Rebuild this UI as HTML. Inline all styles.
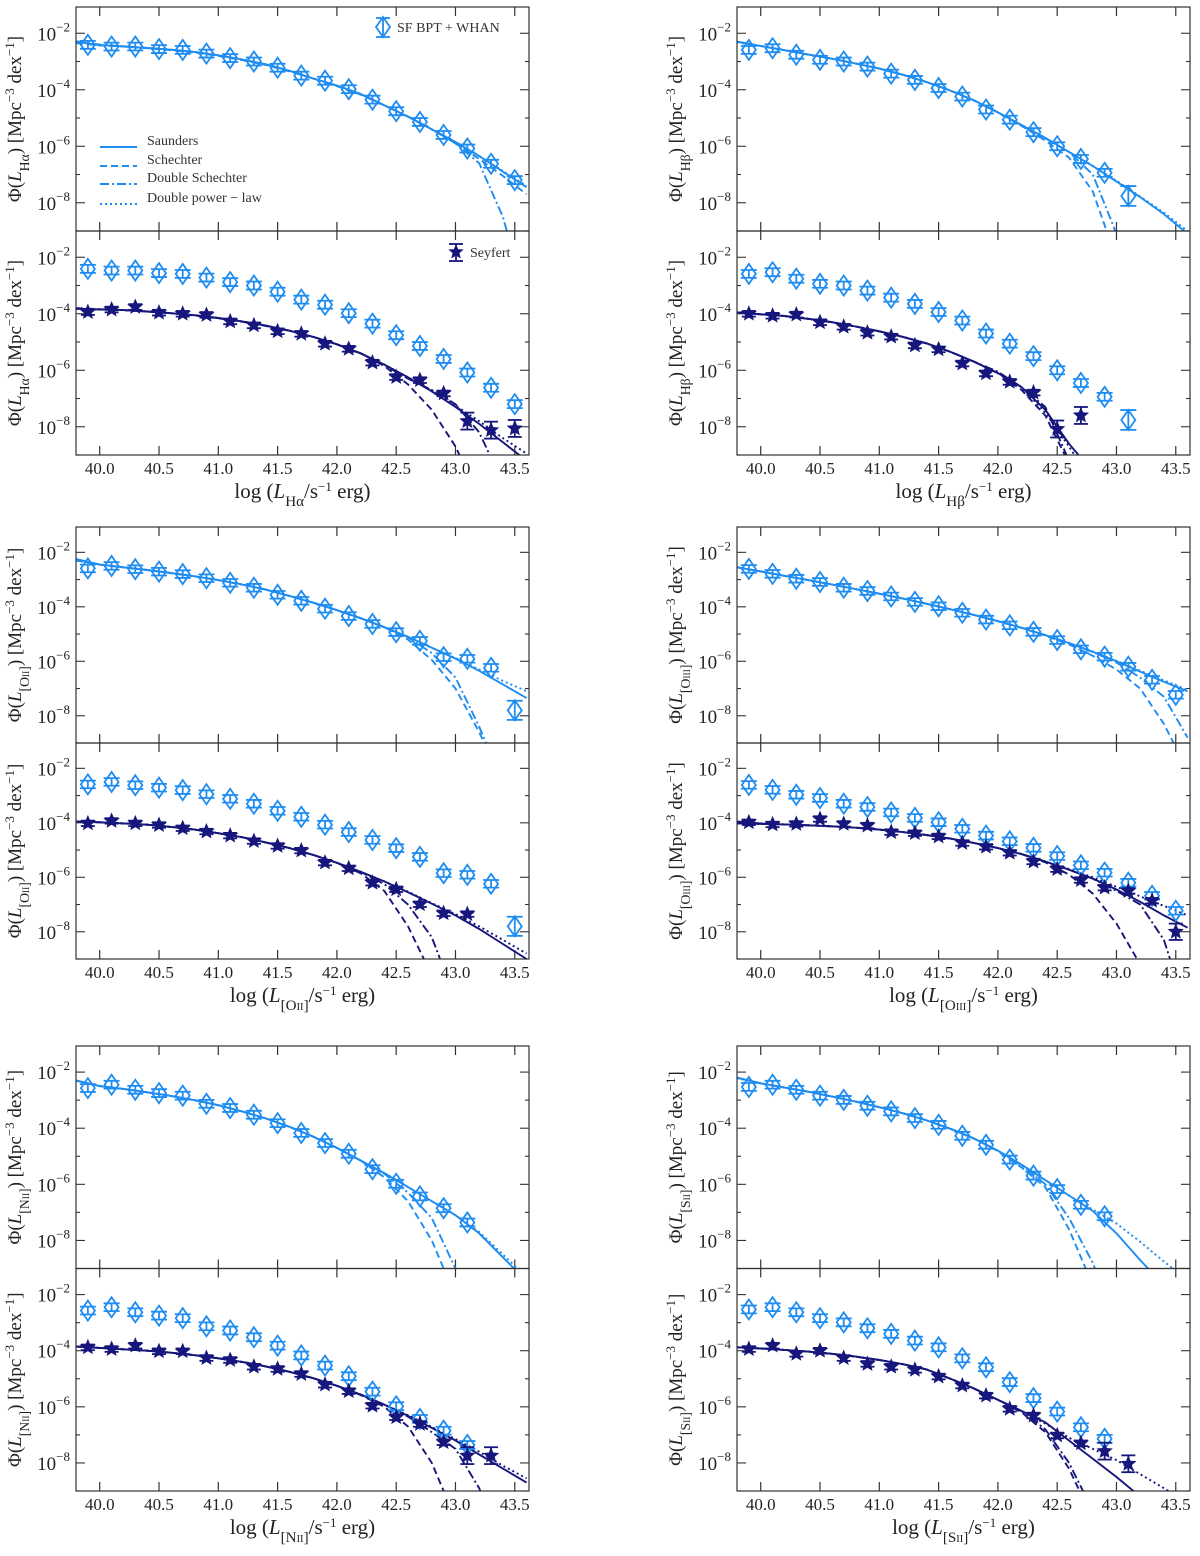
<!DOCTYPE html>
<html><head><meta charset="utf-8"><title>Luminosity functions</title>
<style>
html,body{margin:0;padding:0;background:#fff;width:1200px;height:1556px;overflow:hidden;}
svg{display:block;font-family:"Liberation Serif","DejaVu Serif",serif;overflow:hidden;}
</style></head>
<body>
<svg id="fig" width="1200" height="1556" viewBox="0 0 1200 1556" xmlns="http://www.w3.org/2000/svg"></svg>
<script>
// ---------- shared data ----------
const xPts = [39.9,40.1,40.3,40.5,40.7,40.9,41.1,41.3,41.5,41.7,41.9,42.1,42.3,42.5,42.7,42.9,43.1,43.3,43.5];
const xGrid = [39.8,40.0,40.2,40.4,40.6,40.8,41.0,41.2,41.4,41.6,41.8,42.0,42.2,42.4,42.6,42.8,43.0,43.2,43.4,43.6];
const xTickLabels = ["40.0","40.5","41.0","41.5","42.0","42.5","43.0","43.5"];
const yTickExps = [-2,-4,-6,-8];

// ---------- H alpha (log10 Phi) ----------
const haSF  = [-2.41,-2.47,-2.47,-2.56,-2.59,-2.72,-2.88,-3.0,-3.22,-3.5,-3.68,-3.98,-4.35,-4.76,-5.14,-5.6,-6.08,-6.62,-7.2];
const haSey = [-3.94,-3.85,-3.76,-3.96,-4.0,-4.04,-4.27,-4.41,-4.62,-4.71,-5.06,-5.24,-5.73,-6.24,-6.35,-6.82,-7.8,-8.12,-8.06];
const haSFSau = [-2.3,-2.42,-2.46,-2.52,-2.58,-2.66,-2.78,-2.93,-3.1,-3.33,-3.6,-3.85,-4.15,-4.55,-4.95,-5.4,-5.85,-6.35,-6.9,-7.45];
const haSFSch = [-2.35,-2.43,-2.47,-2.53,-2.6,-2.68,-2.8,-2.95,-3.12,-3.35,-3.6,-3.87,-4.17,-4.55,-4.95,-5.4,-5.9,-6.45,-7.05,-7.7];
const haSFDS  = [-2.28,-2.4,-2.46,-2.52,-2.58,-2.66,-2.78,-2.93,-3.1,-3.33,-3.6,-3.85,-4.15,-4.55,-4.95,-5.4,-5.9,-6.6,-8.5,-11.5];
const haSFDPL = [-2.32,-2.42,-2.47,-2.52,-2.58,-2.66,-2.78,-2.93,-3.1,-3.33,-3.6,-3.85,-4.15,-4.55,-4.95,-5.4,-5.85,-6.35,-6.88,-7.4];
const haSeySau = [-3.82,-3.85,-3.87,-3.92,-3.98,-4.05,-4.15,-4.27,-4.42,-4.6,-4.82,-5.08,-5.4,-5.8,-6.25,-6.75,-7.3,-7.9,-8.55,-9.2];
const haSeySch = [-3.8,-3.84,-3.87,-3.92,-3.98,-4.06,-4.16,-4.28,-4.43,-4.6,-4.82,-5.08,-5.4,-5.85,-6.5,-7.4,-8.7,-10.5,-12,-14];
const haSeyDS  = [-3.82,-3.85,-3.87,-3.92,-3.98,-4.05,-4.15,-4.27,-4.42,-4.6,-4.82,-5.08,-5.4,-5.82,-6.3,-6.7,-7.2,-8.2,-10,-12];
const haSeyDPL = [-3.83,-3.85,-3.87,-3.92,-3.98,-4.05,-4.15,-4.27,-4.42,-4.6,-4.82,-5.08,-5.4,-5.8,-6.25,-6.72,-7.25,-7.8,-8.4,-8.95];

// ---------- H beta ----------
const hbSF  = [-2.59,-2.53,-2.76,-2.94,-3.0,-3.18,-3.43,-3.65,-3.94,-4.24,-4.7,-5.06,-5.5,-6.0,-6.45,-6.94,-7.76,null,null];
const hbSey = [-4.0,-4.07,-4.03,-4.3,-4.46,-4.67,-4.81,-5.12,-5.26,-5.76,-6.11,-6.41,-6.79,-8.08,-7.6,null,null,null,null];
const hbSFSau = [-2.3,-2.45,-2.6,-2.75,-2.9,-3.07,-3.25,-3.47,-3.73,-4.03,-4.38,-4.8,-5.25,-5.7,-6.2,-6.7,-7.25,-7.8,-8.4,-9.1];
const hbSFSch = [-2.3,-2.45,-2.6,-2.75,-2.9,-3.07,-3.25,-3.47,-3.73,-4.03,-4.38,-4.8,-5.28,-5.8,-6.4,-7.6,-10,-12,-14,-16];
const hbSFDS  = [-2.3,-2.45,-2.6,-2.75,-2.9,-3.07,-3.25,-3.47,-3.73,-4.03,-4.38,-4.8,-5.25,-5.72,-6.2,-7.0,-9.1,-11,-13,-15];
const hbSFDPL = [-2.32,-2.45,-2.6,-2.75,-2.9,-3.07,-3.25,-3.47,-3.73,-4.03,-4.38,-4.8,-5.25,-5.7,-6.2,-6.7,-7.22,-7.78,-8.35,-9.0];
const hbSeySau = [-3.95,-4.02,-4.08,-4.18,-4.3,-4.45,-4.62,-4.82,-5.05,-5.35,-5.7,-6.1,-6.6,-7.4,-8.6,-9.6,-11,-12,-13,-14];
const hbSeySch = [-3.95,-4.02,-4.08,-4.18,-4.3,-4.45,-4.62,-4.82,-5.05,-5.35,-5.7,-6.1,-6.7,-7.6,-9.3,-11,-13,-14,-15,-16];
const hbSeyDS  = [-3.95,-4.02,-4.08,-4.18,-4.3,-4.45,-4.62,-4.82,-5.05,-5.35,-5.7,-6.05,-6.6,-7.3,-9.2,-11,-13,-14,-15,-16];
const hbSeyDPL = [-3.95,-4.02,-4.08,-4.18,-4.3,-4.45,-4.62,-4.82,-5.05,-5.35,-5.7,-6.1,-6.6,-7.5,-8.7,-10,-11,-12,-13,-14];

// ---------- [OII] ----------
const o2SF  = [-2.59,-2.5,-2.62,-2.71,-2.8,-2.95,-3.12,-3.3,-3.56,-3.78,-4.07,-4.34,-4.63,-4.93,-5.25,-5.85,-5.91,-6.24,-7.8];
const o2Sey = [-4.02,-3.93,-4.02,-4.08,-4.2,-4.32,-4.47,-4.67,-4.85,-5.02,-5.46,-5.67,-6.2,-6.44,-6.99,-7.32,-7.35,null,null];
const o2SFSau = [-2.25,-2.45,-2.55,-2.65,-2.76,-2.88,-3.02,-3.18,-3.37,-3.6,-3.85,-4.12,-4.42,-4.75,-5.1,-5.5,-5.9,-6.35,-6.85,-7.35];
const o2SFSch = [-2.3,-2.45,-2.55,-2.65,-2.76,-2.88,-3.02,-3.18,-3.37,-3.6,-3.85,-4.12,-4.42,-4.75,-5.2,-5.95,-7.0,-8.6,-10.5,-12];
const o2SFDS  = [-2.25,-2.45,-2.55,-2.65,-2.76,-2.88,-3.02,-3.18,-3.37,-3.6,-3.85,-4.12,-4.42,-4.75,-5.12,-5.7,-6.6,-8.4,-10.5,-12];
const o2SFDPL = [-2.28,-2.45,-2.55,-2.65,-2.76,-2.88,-3.02,-3.18,-3.37,-3.6,-3.85,-4.12,-4.42,-4.75,-5.1,-5.5,-5.88,-6.3,-6.72,-7.1];
const o2SeySau = [-3.95,-3.98,-4.02,-4.07,-4.15,-4.25,-4.38,-4.53,-4.72,-4.93,-5.18,-5.47,-5.8,-6.15,-6.55,-6.97,-7.4,-7.9,-8.45,-9.0];
const o2SeySch = [-3.95,-3.98,-4.02,-4.07,-4.15,-4.25,-4.38,-4.53,-4.72,-4.93,-5.18,-5.47,-5.85,-6.5,-7.8,-9.6,-12,-13,-14,-15];
const o2SeyDS  = [-3.95,-3.98,-4.02,-4.07,-4.15,-4.25,-4.38,-4.53,-4.72,-4.93,-5.18,-5.47,-5.8,-6.25,-7.0,-8.2,-10.5,-12,-13,-14];
const o2SeyDPL = [-3.95,-3.98,-4.02,-4.07,-4.15,-4.25,-4.38,-4.53,-4.72,-4.93,-5.18,-5.47,-5.8,-6.15,-6.53,-6.95,-7.35,-7.8,-8.3,-8.8];

// ---------- [OIII] ----------
const o3SF  = [-2.61,-2.79,-2.97,-3.09,-3.3,-3.42,-3.62,-3.82,-3.98,-4.22,-4.47,-4.68,-4.92,-5.22,-5.56,-5.83,-6.2,-6.68,-7.23];
const o3Sey = [-3.98,-4.06,-4.04,-3.86,-4.04,-4.1,-4.34,-4.38,-4.5,-4.74,-4.88,-5.1,-5.42,-5.7,-6.1,-6.38,-6.5,-6.86,-8.0];
const o3SFSau = [-2.55,-2.7,-2.86,-3.02,-3.18,-3.35,-3.52,-3.7,-3.89,-4.09,-4.3,-4.53,-4.77,-5.04,-5.33,-5.65,-6.0,-6.38,-6.75,-7.1];
const o3SFSch = [-2.55,-2.7,-2.86,-3.02,-3.18,-3.35,-3.52,-3.7,-3.89,-4.09,-4.3,-4.53,-4.77,-5.06,-5.38,-5.8,-6.3,-7.0,-8.3,-10];
const o3SFDS  = [-2.55,-2.7,-2.86,-3.02,-3.18,-3.35,-3.52,-3.7,-3.89,-4.09,-4.3,-4.53,-4.77,-5.04,-5.33,-5.66,-6.05,-6.6,-7.3,-8.8];
const o3SFDPL = [-2.55,-2.7,-2.86,-3.02,-3.18,-3.35,-3.52,-3.7,-3.89,-4.09,-4.3,-4.53,-4.77,-5.04,-5.33,-5.64,-5.98,-6.35,-6.7,-7.05];
const o3SeySau = [-4.02,-4.04,-4.06,-4.09,-4.13,-4.18,-4.25,-4.34,-4.45,-4.58,-4.74,-4.93,-5.15,-5.42,-5.72,-6.05,-6.45,-6.9,-7.4,-7.85];
const o3SeySch = [-4.0,-4.03,-4.06,-4.09,-4.13,-4.18,-4.25,-4.34,-4.45,-4.58,-4.74,-4.93,-5.15,-5.45,-5.9,-6.6,-7.7,-9.2,-11,-13];
const o3SeyDS  = [-3.95,-4.02,-4.06,-4.09,-4.13,-4.18,-4.25,-4.34,-4.45,-4.58,-4.74,-4.93,-5.15,-5.42,-5.72,-6.05,-6.5,-7.0,-8.3,-11];
const o3SeyDPL = [-4.02,-4.04,-4.06,-4.09,-4.13,-4.18,-4.25,-4.34,-4.45,-4.58,-4.74,-4.93,-5.15,-5.42,-5.7,-6.0,-6.35,-6.7,-7.05,-7.4];

// ---------- [NII] ----------
const n2SF  = [-2.57,-2.45,-2.63,-2.75,-2.84,-3.13,-3.28,-3.52,-3.82,-4.17,-4.53,-4.91,-5.46,-5.98,-6.43,-6.85,-7.36,null,null];
const n2Sey = [-3.88,-3.94,-3.82,-4.02,-4.02,-4.26,-4.33,-4.57,-4.65,-4.83,-5.21,-5.44,-5.96,-6.37,-6.61,-7.26,-7.74,-7.74,null];
const n2SFSau = [-2.3,-2.5,-2.6,-2.72,-2.85,-3.0,-3.18,-3.4,-3.65,-3.95,-4.3,-4.7,-5.15,-5.6,-6.1,-6.6,-7.1,-7.75,-8.6,-9.45];
const n2SFSch = [-2.3,-2.5,-2.6,-2.72,-2.85,-3.0,-3.18,-3.4,-3.65,-3.95,-4.3,-4.7,-5.15,-5.75,-6.6,-8.0,-10,-12,-14,-16];
const n2SFDS  = [-2.3,-2.5,-2.6,-2.72,-2.85,-3.0,-3.18,-3.4,-3.65,-3.95,-4.3,-4.7,-5.15,-5.62,-6.3,-7.2,-9.0,-11,-13,-15];
const n2SFDPL = [-2.3,-2.5,-2.6,-2.72,-2.85,-3.0,-3.18,-3.4,-3.65,-3.95,-4.3,-4.7,-5.15,-5.6,-6.1,-6.6,-7.1,-7.7,-8.5,-9.3];
const n2SeySau = [-3.85,-3.9,-3.95,-4.0,-4.07,-4.16,-4.27,-4.4,-4.56,-4.75,-4.98,-5.25,-5.56,-5.92,-6.32,-6.75,-7.2,-7.7,-8.2,-8.7];
const n2SeySch = [-3.85,-3.9,-3.95,-4.0,-4.07,-4.16,-4.27,-4.4,-4.56,-4.75,-4.98,-5.25,-5.58,-6.0,-6.7,-8.0,-10,-12,-14,-16];
const n2SeyDS  = [-3.85,-3.9,-3.95,-4.0,-4.07,-4.16,-4.27,-4.4,-4.56,-4.75,-4.98,-5.25,-5.56,-5.92,-6.35,-6.9,-7.5,-8.9,-11,-13];
const n2SeyDPL = [-3.85,-3.9,-3.95,-4.0,-4.07,-4.16,-4.27,-4.4,-4.56,-4.75,-4.98,-5.25,-5.56,-5.92,-6.3,-6.72,-7.15,-7.6,-8.1,-8.55];

// ---------- [SII] ----------
const s2SF  = [-2.53,-2.45,-2.63,-2.84,-2.99,-3.2,-3.4,-3.64,-3.88,-4.27,-4.59,-5.12,-5.69,-6.17,-6.73,-7.14,null,null,null];
const s2Sey = [-3.94,-3.82,-4.11,-4.0,-4.26,-4.47,-4.57,-4.68,-4.92,-5.24,-5.6,-6.07,-6.31,-7.02,-7.3,-7.58,-8.03,null,null];
const s2SFSau = [-2.2,-2.4,-2.55,-2.7,-2.87,-3.05,-3.25,-3.47,-3.72,-4.02,-4.37,-4.8,-5.3,-5.85,-6.4,-6.95,-7.75,-8.7,-9.6,-10.5];
const s2SFSch = [-2.2,-2.4,-2.55,-2.7,-2.87,-3.05,-3.25,-3.47,-3.72,-4.02,-4.37,-4.82,-5.4,-6.1,-7.6,-9.6,-12,-14,-16,-18];
const s2SFDS  = [-2.2,-2.4,-2.55,-2.7,-2.87,-3.05,-3.25,-3.47,-3.72,-4.02,-4.37,-4.8,-5.32,-6.0,-7.2,-8.8,-11,-13,-15,-17];
const s2SFDPL = [-2.22,-2.4,-2.55,-2.7,-2.87,-3.05,-3.25,-3.47,-3.72,-4.02,-4.37,-4.8,-5.3,-5.85,-6.4,-6.9,-7.4,-8.05,-8.75,-9.4];
const s2SeySau = [-3.88,-3.92,-3.97,-4.03,-4.11,-4.21,-4.33,-4.48,-4.67,-5.0,-5.35,-5.75,-6.15,-6.55,-7.2,-7.85,-8.5,-9.2,-10,-11];
const s2SeySch = [-3.88,-3.92,-3.97,-4.03,-4.11,-4.21,-4.33,-4.48,-4.67,-5.0,-5.35,-5.75,-6.2,-6.9,-8.2,-10,-12,-14,-16,-18];
const s2SeyDS  = [-3.88,-3.92,-3.97,-4.03,-4.11,-4.21,-4.33,-4.48,-4.67,-5.0,-5.35,-5.75,-6.15,-6.8,-8.0,-9.7,-12,-14,-16,-18];
const s2SeyDPL = [-3.88,-3.92,-3.97,-4.03,-4.11,-4.21,-4.33,-4.48,-4.67,-5.0,-5.35,-5.75,-6.15,-6.6,-7.1,-7.5,-7.9,-8.4,-8.9,-9.4];

// ---------- layout ----------
const SVGNS = "http://www.w3.org/2000/svg";
const svg = document.getElementById('fig');
const LIGHT = "#1e8cf0", NAVY = "#16167c", AX = "#333";
const X_MIN = 39.8, X_MAX = 43.62, Y_MIN = -9, Y_MAX = -1.07;
const colLeft = [76, 737], colW = 453;
const rowTop = [7, 527, 1046], rowBot = [455, 959, 1491];
const dashes = {sau:null, sch:"7,4", ds:"9,3,2,3", dpl:"2,3"};

const panels = [
  {key:"ha", col:0,row:0, sub:"Hα", sf:haSF, sey:haSey,
   sfFits:[haSFSau,haSFSch,haSFDS,haSFDPL], seyFits:[haSeySau,haSeySch,haSeyDS,haSeyDPL]},
  {key:"hb", col:1,row:0, sub:"Hβ", sf:hbSF, sey:hbSey,
   sfFits:[hbSFSau,hbSFSch,hbSFDS,hbSFDPL], seyFits:[hbSeySau,hbSeySch,hbSeyDS,hbSeyDPL]},
  {key:"oii", col:0,row:1, sub:"[OII]", sf:o2SF, sey:o2Sey,
   sfFits:[o2SFSau,o2SFSch,o2SFDS,o2SFDPL], seyFits:[o2SeySau,o2SeySch,o2SeyDS,o2SeyDPL]},
  {key:"oiii", col:1,row:1, sub:"[OIII]", sf:o3SF, sey:o3Sey,
   sfFits:[o3SFSau,o3SFSch,o3SFDS,o3SFDPL], seyFits:[o3SeySau,o3SeySch,o3SeyDS,o3SeyDPL]},
  {key:"nii", col:0,row:2, sub:"[NII]", sf:n2SF, sey:n2Sey,
   sfFits:[n2SFSau,n2SFSch,n2SFDS,n2SFDPL], seyFits:[n2SeySau,n2SeySch,n2SeyDS,n2SeyDPL]},
  {key:"sii", col:1,row:2, sub:"[SII]", sf:s2SF, sey:s2Sey,
   sfFits:[s2SFSau,s2SFSch,s2SFDS,s2SFDPL], seyFits:[s2SeySau,s2SeySch,s2SeyDS,s2SeyDPL]}
];
const fitKeys = ["sau","sch","ds","dpl"];

function el(tag, attrs, parent){
  const e = document.createElementNS(SVGNS, tag);
  for (const k in attrs) e.setAttribute(k, attrs[k]);
  (parent||svg).appendChild(e);
  return e;
}
const defs = el('defs', {});

function subLabel(sub){
  const m = sub.match(/^\[(\w)(I+)\]$/);
  return m ? ["[" + m[1], m[2], "]"] : [sub, "", ""];
}

function addSubscript(t, sub, fs){
  const parts = subLabel(sub);
  const s = el('tspan', {'baseline-shift':'sub','font-size':fs*0.72}, t);
  s.textContent = parts[0];
  if (parts[1]) {
    const r = el('tspan', {'font-size':fs*0.5}, s); r.textContent = parts[1];
    const c = el('tspan', {}, s); c.textContent = parts[2];
  }
}

function diamond(g, cx, cy, color){
  return el('path', {d:`M${cx} ${cy-10} L${cx+7} ${cy} L${cx} ${cy+10} L${cx-7} ${cy} Z`, fill:'none', stroke:color, 'stroke-width':1.8}, g);
}
function star(g, cx, cy, r, color){
  let pts = [];
  for (let i=0;i<10;i++){
    const a = -Math.PI/2 + i*Math.PI/5;
    const rr = i%2===0 ? r : r*0.45;
    pts.push((cx+rr*Math.cos(a)).toFixed(1)+","+(cy+rr*Math.sin(a)).toFixed(1));
  }
  return el('polygon', {points:pts.join(" "), fill:color, stroke:color, 'stroke-width':0.8}, g);
}

panels.forEach((p, pi) => {
  const L = colLeft[p.col], R = L + colW;
  const T = rowTop[p.row], B = rowBot[p.row], M = (T+B)/2;
  const xs = v => L + (v - X_MIN) / (X_MAX - X_MIN) * colW;
  const g = el('g', {});
  
  

  [[T,M,'top'],[M,B,'bottom']].forEach(([t,b,pos]) => {
    const ys = v => t + (Y_MAX - v) / (Y_MAX - Y_MIN) * (b - t);
    const sg = el('g', {}, g);
    
    
    const cid = 'clip-' + p.key + '-' + pos;
    const cp = el('clipPath', {id:cid}, defs);
    el('rect', {x:L, y:t, width:colW, height:b-t}, cp);

    xTickLabels.forEach(lbl => {
      const X = xs(parseFloat(lbl));
      el('line', {x1:X, y1:b, x2:X, y2:b-9, stroke:AX, 'stroke-width':1.2}, sg);
      el('line', {x1:X, y1:t, x2:X, y2:t+9, stroke:AX, 'stroke-width':1.2}, sg);
    });
    for (let e=-9; e<=-2; e++){
      const Y = ys(e);
      const len = (e % 2 === 0) ? 9 : 4;
      el('line', {x1:L, y1:Y, x2:L+len, y2:Y, stroke:AX, 'stroke-width':1.1}, sg);
      el('line', {x1:R, y1:Y, x2:R-len, y2:Y, stroke:AX, 'stroke-width':1.1}, sg);
    }
    yTickExps.forEach(e => {
      const Y = ys(e);
      const tx = el('text', {x:L-6, y:Y+7, 'text-anchor':'end', 'font-size':19, fill:'#222'}, sg);
      
      
      const a = el('tspan', {}, tx); a.textContent = "10";
      const s = el('tspan', {'font-size':13, dy:-9}, tx); s.textContent = "−" + Math.abs(e);
    });

    const yl = el('text', {x:0, y:0, 'text-anchor':'middle', 'font-size':19, fill:'#222',
      transform:`translate(${L - 55},${(t+b)/2}) rotate(-90)`}, sg);
    
    
    const y1 = el('tspan', {}, yl); y1.textContent = "Φ(";
    const y2 = el('tspan', {'font-style':'italic'}, yl); y2.textContent = "L";
    addSubscript(yl, p.sub, 19);
    const y3 = el('tspan', {}, yl); y3.textContent = ") [Mpc";
    const y4 = el('tspan', {'baseline-shift':'super','font-size':13}, yl); y4.textContent = "−3";
    const y5 = el('tspan', {}, yl); y5.textContent = " dex";
    const y6 = el('tspan', {'baseline-shift':'super','font-size':13}, yl); y6.textContent = "−1";
    const y7 = el('tspan', {}, yl); y7.textContent = "]";

    const fitColor = pos === 'top' ? LIGHT : NAVY;
    const fits = pos === 'top' ? p.sfFits : p.seyFits;
    const fg = el('g', {'clip-path':`url(#${cid})`}, sg);
    fits.forEach((arr, fi) => {
      const d = arr.map((v,i) => (i?'L':'M') + xs(xGrid[i]).toFixed(1) + ' ' + ys(v).toFixed(1)).join(' ');
      const path = el('path', {d:d, fill:'none', stroke:fitColor, 'stroke-width':1.9}, fg);
      if (dashes[fitKeys[fi]]) path.setAttribute('stroke-dasharray', dashes[fitKeys[fi]]);
      
      
    });

    const mg = el('g', {'clip-path':`url(#${cid})`}, sg);
    p.sf.forEach((v,i) => {
      if (v === null) return;
      const X = xs(xPts[i]), Y = ys(v);
      const err = v < -7.5 ? 0.35 : 0.14;
      const pg = el('g', {}, mg);
      
      
      el('line', {x1:X, y1:ys(v+err), x2:X, y2:ys(v-err), stroke:LIGHT, 'stroke-width':1.8}, pg);
      el('line', {x1:X-8, y1:ys(v+err), x2:X+8, y2:ys(v+err), stroke:LIGHT, 'stroke-width':1.8}, pg);
      el('line', {x1:X-8, y1:ys(v-err), x2:X+8, y2:ys(v-err), stroke:LIGHT, 'stroke-width':1.8}, pg);
      diamond(pg, X, Y, LIGHT);
    });
    if (pos === 'bottom') {
      p.sey.forEach((v,i) => {
        if (v === null) return;
        const X = xs(xPts[i]), Y = ys(v);
        const err = v < -7.5 ? 0.3 : 0.1;
        const pg = el('g', {}, mg);
        
        
        el('line', {x1:X, y1:ys(v+err), x2:X, y2:ys(v-err), stroke:NAVY, 'stroke-width':1.8}, pg);
        el('line', {x1:X-7, y1:ys(v+err), x2:X+7, y2:ys(v+err), stroke:NAVY, 'stroke-width':1.8}, pg);
        el('line', {x1:X-7, y1:ys(v-err), x2:X+7, y2:ys(v-err), stroke:NAVY, 'stroke-width':1.8}, pg);
        star(pg, X, Y, 7.5, NAVY);
      });
    }
    el('rect', {x:L, y:t, width:colW, height:b-t, fill:'none', stroke:AX, 'stroke-width':1.2}, sg);
  });

  xTickLabels.forEach(lbl => {
    const tx = el('text', {x:xs(parseFloat(lbl)), y:B+19, 'text-anchor':'middle', 'font-size':17, fill:'#222'}, g);
    
    
    tx.textContent = lbl;
  });
  const xl = el('text', {x:L+colW/2, y:B+43, 'text-anchor':'middle', 'font-size':21, fill:'#222'}, g);
  
  
  const a1 = el('tspan', {}, xl); a1.textContent = "log (";
  const a2 = el('tspan', {'font-style':'italic'}, xl); a2.textContent = "L";
  addSubscript(xl, p.sub, 21);
  const a3 = el('tspan', {}, xl); a3.textContent = "/s";
  const a4 = el('tspan', {'baseline-shift':'super','font-size':13}, xl); a4.textContent = "−1";
  const a5 = el('tspan', {}, xl); a5.textContent = " erg)";
});

const lg = el('g', {});


{
  const sfE = el('g', {}, lg);
  
  
  el('line', {x1:383, y1:18, x2:383, y2:37, stroke:LIGHT, 'stroke-width':1.8}, sfE);
  el('line', {x1:376, y1:18, x2:390, y2:18, stroke:LIGHT, 'stroke-width':1.8}, sfE);
  el('line', {x1:376, y1:37, x2:390, y2:37, stroke:LIGHT, 'stroke-width':1.8}, sfE);
  diamond(sfE, 383, 27, LIGHT);
  const t = el('text', {x:397, y:32, 'font-size':14, fill:'#333'}, sfE); t.textContent = "SF BPT + WHAN";

  const names = ["Saunders","Schechter","Double Schechter","Double power − law"];
  const ly = [147, 166, 184, 204];
  names.forEach((n,i) => {
    const e = el('g', {}, lg);
    
    
    const ln = el('line', {x1:100, y1:ly[i], x2:137, y2:ly[i], stroke:LIGHT, 'stroke-width':1.9}, e);
    if (dashes[fitKeys[i]]) ln.setAttribute('stroke-dasharray', dashes[fitKeys[i]]);
    const t2 = el('text', {x:147, y:ly[i]-2, 'font-size':14, fill:'#333'}, e); t2.textContent = n;
  });

  const syE = el('g', {}, lg);
  
  
  el('line', {x1:456, y1:244, x2:456, y2:261, stroke:NAVY, 'stroke-width':1.8}, syE);
  el('line', {x1:449, y1:244, x2:463, y2:244, stroke:NAVY, 'stroke-width':1.8}, syE);
  el('line', {x1:449, y1:261, x2:463, y2:261, stroke:NAVY, 'stroke-width':1.8}, syE);
  star(syE, 456, 252, 7, NAVY);
  const t3 = el('text', {x:470, y:257, 'font-size':14, fill:'#333'}, syE); t3.textContent = "Seyfert";
}
</script>
</body></html>
